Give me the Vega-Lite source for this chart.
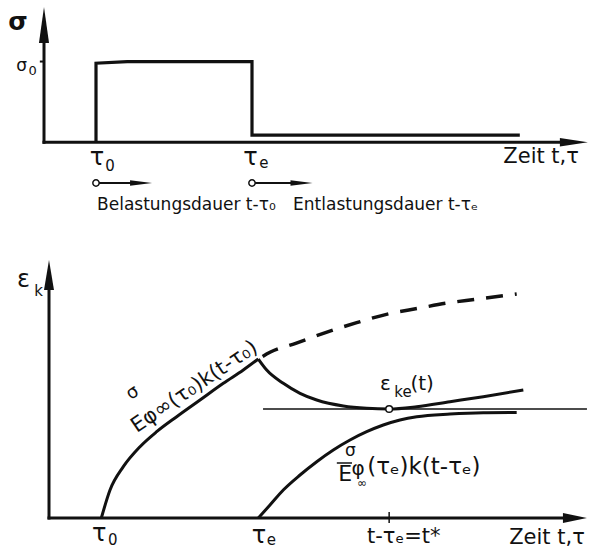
{
  "$schema": "https://vega.github.io/schema/vega-lite/v6.json",
  "background": "white",
  "padding": {"left": 0, "right": 0, "top": 5, "bottom": 2},
  "spacing": 43,
  "config": {
    "view": {"stroke": null},
    "text": {"font": "DejaVu Sans", "color": "#111"},
    "rule": {"color": "#111"},
    "line": {"color": "#111"}
  },
  "resolve": {"scale": {"x": "independent", "y": "independent"}},
  "vconcat": [
    {
      "width": 589,
      "height": 210,
      "encoding": {
        "x": {"field": "t", "type": "quantitative", "scale": {"domain": [-0.8462, 10.4808], "nice": false, "zero": false}, "axis": null},
        "y": {"field": "v", "type": "quantitative", "scale": {"domain": [-0.9, 1.7], "nice": false, "zero": false}, "axis": null}
      },
      "layer": [
        {
          "data": {"values": [{"t": 0, "v": 0, "t2": 0, "v2": 1.25}, {"t": 0, "v": 0, "t2": 9.95, "v2": 0}]},
          "mark": {"type": "rule", "strokeWidth": 3, "strokeCap": "square"},
          "encoding": {"x2": {"field": "t2"}, "y2": {"field": "v2"}}
        },
        {
          "data": {"values": [{"t": -0.08, "v": 1, "t2": 0, "v2": 1}]},
          "mark": {"type": "rule", "strokeWidth": 2},
          "encoding": {"x2": {"field": "t2"}, "y2": {"field": "v2"}}
        },
        {
          "data": {"values": [{"t": 0, "v": 1.452}]},
          "mark": {"type": "point", "shape": "M0,-1L0.28,1L-0.28,1Z", "size": 1296, "filled": true, "color": "#111", "opacity": 1, "strokeWidth": 0}
        },
        {
          "data": {"values": [{"t": 10.19, "v": 0}]},
          "mark": {"type": "point", "shape": "M1,0L-1,-0.3L-1,0.3Z", "size": 784, "filled": true, "color": "#111", "opacity": 1, "strokeWidth": 0}
        },
        {
          "data": {"values": [
            {"i": 0, "t": 1, "v": 0},
            {"i": 1, "t": 1, "v": 0.98},
            {"i": 2, "t": 1.6, "v": 1.0},
            {"i": 3, "t": 4, "v": 1.0},
            {"i": 4, "t": 4, "v": 0.09},
            {"i": 5, "t": 9.15, "v": 0.09}
          ]},
          "mark": {"type": "line", "strokeWidth": 3.2, "strokeJoin": "miter"},
          "encoding": {"order": {"field": "i"}}
        },
        {
          "data": {"values": [{"t": 1, "v": -0.504, "t2": 1.7, "v2": -0.504}, {"t": 4, "v": -0.504, "t2": 4.75, "v2": -0.504}]},
          "mark": {"type": "rule", "strokeWidth": 1.8},
          "encoding": {"x2": {"field": "t2"}, "y2": {"field": "v2"}}
        },
        {
          "data": {"values": [{"t": 1.867, "v": -0.504}, {"t": 4.952, "v": -0.504}]},
          "mark": {"type": "point", "shape": "M1,0L-1,-0.25L-1,0.25Z", "size": 484, "filled": true, "color": "#111", "opacity": 1, "strokeWidth": 0}
        },
        {
          "data": {"values": [{"t": 1, "v": -0.504}, {"t": 4, "v": -0.504}]},
          "mark": {"type": "point", "shape": "circle", "size": 40, "filled": true, "fill": "white", "stroke": "#111", "strokeWidth": 1.5, "opacity": 1}
        },
        {
          "data": {"values": [{"t": -0.5, "v": 1.49, "label": "σ"}]},
          "mark": {"type": "text", "fontSize": 25, "fontWeight": "bold", "align": "center", "baseline": "middle"},
          "encoding": {"text": {"field": "label"}}
        },
        {
          "data": {"values": [{"t": 1.02, "v": -0.2, "label": "τ"}, {"t": 3.97, "v": -0.2, "label": "τ"}]},
          "mark": {"type": "text", "fontSize": 24, "align": "center", "baseline": "middle"},
          "encoding": {"text": {"field": "label"}}
        },
        {
          "data": {"values": [{"t": 1.27, "v": -0.29, "label": "0"}, {"t": 4.23, "v": -0.25, "label": "e"}]},
          "mark": {"type": "text", "fontSize": 15, "align": "center", "baseline": "middle"},
          "encoding": {"text": {"field": "label"}}
        },
        {
          "data": {"values": [{"t": -0.43, "v": 0.945, "label": "σ"}]},
          "mark": {"type": "text", "fontSize": 17, "align": "center", "baseline": "middle"},
          "encoding": {"text": {"field": "label"}}
        },
        {
          "data": {"values": [{"t": -0.22, "v": 0.885, "label": "0"}]},
          "mark": {"type": "text", "fontSize": 13, "align": "center", "baseline": "middle"},
          "encoding": {"text": {"field": "label"}}
        },
        {
          "data": {"values": [{"t": 9.56, "v": -0.18, "label": "Zeit t,τ"}]},
          "mark": {"type": "text", "fontSize": 21, "align": "center", "baseline": "middle"},
          "encoding": {"text": {"field": "label"}}
        },
        {
          "data": {"values": [{"t": 1.02, "v": -0.776, "label": "Belastungsdauer t-τ₀"}, {"t": 4.79, "v": -0.776, "label": "Entlastungsdauer t-τₑ"}]},
          "mark": {"type": "text", "fontSize": 17, "align": "left", "baseline": "middle"},
          "encoding": {"text": {"field": "label"}}
        }
      ]
    },
    {
      "width": 589,
      "height": 295,
      "encoding": {
        "x": {"field": "t", "type": "quantitative", "scale": {"domain": [-0.9364, 10.319], "nice": false, "zero": false}, "axis": null},
        "y": {"field": "v", "type": "quantitative", "scale": {"domain": [-0.35, 2.6], "nice": false, "zero": false}, "axis": null}
      },
      "layer": [
        {
          "data": {"values": [{"t": 0, "v": 0, "t2": 0, "v2": 2.3}, {"t": 0, "v": 0, "t2": 9.85, "v2": 0}]},
          "mark": {"type": "rule", "strokeWidth": 3, "strokeCap": "square"},
          "encoding": {"x2": {"field": "t2"}, "y2": {"field": "v2"}}
        },
        {
          "data": {"values": [{"t": 6.5, "v": -0.05, "t2": 6.5, "v2": 0.06}]},
          "mark": {"type": "rule", "strokeWidth": 1.5},
          "encoding": {"x2": {"field": "t2"}, "y2": {"field": "v2"}}
        },
        {
          "data": {"values": [{"t": 4.09, "v": 1.09, "t2": 10.28, "v2": 1.09}]},
          "mark": {"type": "rule", "strokeWidth": 1.3},
          "encoding": {"x2": {"field": "t2"}, "y2": {"field": "v2"}}
        },
        {
          "data": {"values": [{"t": 0, "v": 2.43}]},
          "mark": {"type": "point", "shape": "M0,-1L0.333,1L-0.333,1Z", "size": 900, "filled": true, "color": "#111", "opacity": 1, "strokeWidth": 0}
        },
        {
          "data": {"values": [{"t": 10.05, "v": 0}]},
          "mark": {"type": "point", "shape": "M1,0L-1,-0.42L-1,0.42Z", "size": 576, "filled": true, "color": "#111", "opacity": 1, "strokeWidth": 0}
        },
        {
          "data": {"values": [
            {"curve": "creep_t0", "t": 1, "v": 0},
            {"curve": "creep_t0", "t": 1.166, "v": 0.28},
            {"curve": "creep_t0", "t": 1.42, "v": 0.513},
            {"curve": "creep_t0", "t": 1.739, "v": 0.713},
            {"curve": "creep_t0", "t": 2.058, "v": 0.863},
            {"curve": "creep_t0", "t": 2.44, "v": 1.013},
            {"curve": "creep_t0", "t": 2.886, "v": 1.18},
            {"curve": "creep_t0", "t": 3.331, "v": 1.347},
            {"curve": "creep_t0", "t": 3.713, "v": 1.48},
            {"curve": "creep_t0", "t": 4, "v": 1.59},
            {"curve": "recovery", "t": 4, "v": 1.59},
            {"curve": "recovery", "t": 4.16, "v": 1.48},
            {"curve": "recovery", "t": 4.477, "v": 1.347},
            {"curve": "recovery", "t": 4.797, "v": 1.247},
            {"curve": "recovery", "t": 5.116, "v": 1.18},
            {"curve": "recovery", "t": 5.624, "v": 1.12},
            {"curve": "recovery", "t": 6.071, "v": 1.097},
            {"curve": "recovery", "t": 6.5, "v": 1.09},
            {"curve": "recovery", "t": 7.027, "v": 1.113},
            {"curve": "recovery", "t": 7.663, "v": 1.163},
            {"curve": "recovery", "t": 8.299, "v": 1.213},
            {"curve": "recovery", "t": 9.064, "v": 1.28},
            {"curve": "creep_te", "t": 4, "v": 0},
            {"curve": "creep_te", "t": 4.223, "v": 0.13},
            {"curve": "creep_te", "t": 4.477, "v": 0.28},
            {"curve": "creep_te", "t": 4.797, "v": 0.43},
            {"curve": "creep_te", "t": 5.116, "v": 0.563},
            {"curve": "creep_te", "t": 5.433, "v": 0.68},
            {"curve": "creep_te", "t": 5.752, "v": 0.78},
            {"curve": "creep_te", "t": 6.071, "v": 0.863},
            {"curve": "creep_te", "t": 6.388, "v": 0.93},
            {"curve": "creep_te", "t": 6.707, "v": 0.98},
            {"curve": "creep_te", "t": 7.027, "v": 1.013},
            {"curve": "creep_te", "t": 7.663, "v": 1.04},
            {"curve": "creep_te", "t": 8.299, "v": 1.053},
            {"curve": "creep_te", "t": 8.937, "v": 1.055}
          ]},
          "mark": {"type": "line", "strokeWidth": 3, "interpolate": "monotone"},
          "encoding": {"detail": {"field": "curve"}}
        },
        {
          "data": {"values": [
            {"t": 4, "v": 1.59},
            {"t": 4.223, "v": 1.657},
            {"t": 4.714, "v": 1.747},
            {"t": 5.242, "v": 1.847},
            {"t": 5.88, "v": 1.953},
            {"t": 6.497, "v": 2.043},
            {"t": 7.057, "v": 2.097},
            {"t": 7.581, "v": 2.147},
            {"t": 8.154, "v": 2.187},
            {"t": 8.937, "v": 2.24}
          ]},
          "mark": {"type": "line", "strokeWidth": 3.5, "interpolate": "monotone", "strokeDash": [17, 12], "strokeDashOffset": -5}
        },
        {
          "data": {"values": [{"t": 6.5, "v": 1.09}]},
          "mark": {"type": "point", "shape": "circle", "size": 45, "filled": true, "fill": "white", "stroke": "#111", "strokeWidth": 1.5, "opacity": 1}
        },
        {
          "data": {"values": [{"t": 5.5, "v": 0.55, "t2": 5.79, "v2": 0.55}]},
          "mark": {"type": "rule", "strokeWidth": 1.5},
          "encoding": {"x2": {"field": "t2"}, "y2": {"field": "v2"}}
        },
        {
          "data": {"values": [{"t": -0.49, "v": 2.38, "label": "ε"}, {"t": 0.96, "v": -0.155, "label": "τ"}, {"t": 4.01, "v": -0.18, "label": "τ"}]},
          "mark": {"type": "text", "fontSize": 24, "align": "center", "baseline": "middle"},
          "encoding": {"text": {"field": "label"}}
        },
        {
          "data": {"values": [{"t": -0.2, "v": 2.27, "label": "k"}, {"t": 1.22, "v": -0.22, "label": "0"}, {"t": 4.25, "v": -0.22, "label": "e"}, {"t": 6.765, "v": 1.26, "label": "ke"}]},
          "mark": {"type": "text", "fontSize": 15, "align": "center", "baseline": "middle"},
          "encoding": {"text": {"field": "label"}}
        },
        {
          "data": {"values": [{"t": 6.78, "v": -0.19, "label": "t-τₑ=t*"}, {"t": 9.516, "v": -0.2, "label": "Zeit t,τ"}]},
          "mark": {"type": "text", "fontSize": 21, "align": "center", "baseline": "middle"},
          "encoding": {"text": {"field": "label"}}
        },
        {
          "data": {"values": [{"t": 6.43, "v": 1.34, "label": "ε"}, {"t": 7.13, "v": 1.345, "label": "(t)"}, {"t": 5.905, "v": 0.49, "label": "φ"}]},
          "mark": {"type": "text", "fontSize": 20, "align": "center", "baseline": "middle"},
          "encoding": {"text": {"field": "label"}}
        },
        {
          "data": {"values": [{"t": 5.76, "v": 0.67, "label": "σ"}]},
          "mark": {"type": "text", "fontSize": 17, "align": "center", "baseline": "middle"},
          "encoding": {"text": {"field": "label"}}
        },
        {
          "data": {"values": [{"t": 5.66, "v": 0.44, "label": "E"}]},
          "mark": {"type": "text", "fontSize": 22, "align": "center", "baseline": "middle"},
          "encoding": {"text": {"field": "label"}}
        },
        {
          "data": {"values": [{"t": 5.98, "v": 0.35, "label": "∞"}]},
          "mark": {"type": "text", "fontSize": 12, "align": "center", "baseline": "middle"},
          "encoding": {"text": {"field": "label"}}
        },
        {
          "data": {"values": [{"t": 6.08, "v": 0.51, "label": "(τₑ)k(t-τₑ)"}]},
          "mark": {"type": "text", "fontSize": 23, "align": "left", "baseline": "middle"},
          "encoding": {"text": {"field": "label"}}
        },
        {
          "data": {"values": [{"t": 2.78, "v": 1.31, "label": "Eφ∞(τ₀)k(t-τ₀)"}]},
          "mark": {"type": "text", "fontSize": 21, "angle": -34, "align": "center", "baseline": "middle"},
          "encoding": {"text": {"field": "label"}}
        },
        {
          "data": {"values": [{"t": 1.6, "v": 1.25, "label": "σ"}]},
          "mark": {"type": "text", "fontSize": 18, "angle": -34, "align": "center", "baseline": "middle"},
          "encoding": {"text": {"field": "label"}}
        }
      ]
    }
  ]
}
